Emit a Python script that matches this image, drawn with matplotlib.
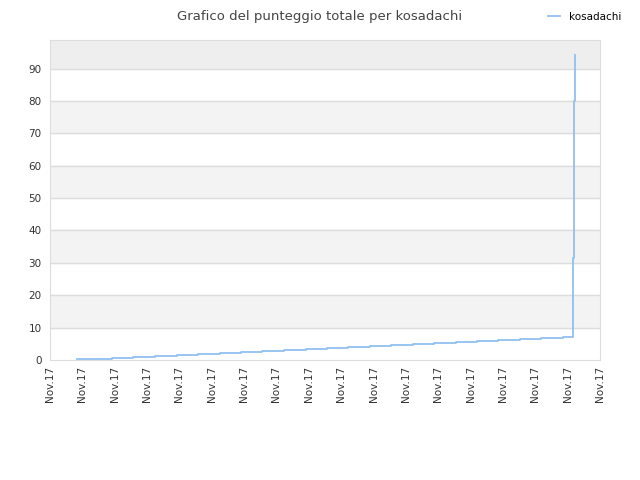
import matplotlib
matplotlib.use("Agg")
import matplotlib.pyplot as plt

# step start positions (x axis units, 0..17 = the 18 date ticks) and scores
step_x = [0.84, 1.24, 1.91, 2.57, 3.24, 3.91, 4.56, 5.24, 5.89, 6.56, 7.22, 7.90,
          8.56, 9.21, 9.88, 10.54, 11.21, 11.87, 12.54, 13.19, 13.85, 14.52, 15.18,
          15.85, 16.17, 16.19, 16.22]
step_y = [0.2, 0.4, 0.7, 1.0, 1.3, 1.6, 2.0, 2.3, 2.6, 2.9, 3.2, 3.5, 3.8, 4.1,
          4.4, 4.7, 5.0, 5.3, 5.7, 6.0, 6.3, 6.6, 6.9, 7.2, 31.4, 80.0, 94.1]
tick_labels = ["Nov.17"] * 18
y_ticks = [0, 10, 20, 30, 40, 50, 60, 70, 80, 90]

fig = plt.figure(figsize=(6.4, 4.8), dpi=100)
ax = fig.add_axes([50 / 640, 120 / 480, 550 / 640, 320 / 480])
ymax = 98.8
ax.set_xlim(0, 17)
ax.set_ylim(0, ymax)

# alternating bands
for lo in range(10, 90, 20):
    ax.axhspan(lo, lo + 10, color="#f3f3f3", zorder=0)
ax.axhspan(90, ymax, color="#eeeeee", zorder=0)
for y in y_ticks[1:]:
    ax.axhline(y, color="#dddddd", lw=1, zorder=1)

ax.step(step_x, step_y, where="post", color="#90c0f0", lw=1.3, zorder=3, label="kosadachi")

ax.set_xticks(range(18))
ax.set_xticklabels(tick_labels, rotation=90, fontsize=7.5, color="#333333")
ax.set_yticks(y_ticks)
ax.tick_params(axis="y", labelsize=7.5, colors="#333333", length=0, pad=6)
ax.tick_params(axis="x", length=0, pad=4)
for s in ax.spines.values():
    s.set_color("#dddddd")

fig.text(0.5, 0.965, "Grafico del punteggio totale per kosadachi", ha="center", va="center",
         fontsize=9.5, color="#444444")
fig.legend(loc="upper right", bbox_to_anchor=(0.985, 0.995), frameon=False, fontsize=7.5,
           handlelength=1.2)
fig.savefig("out.png")
